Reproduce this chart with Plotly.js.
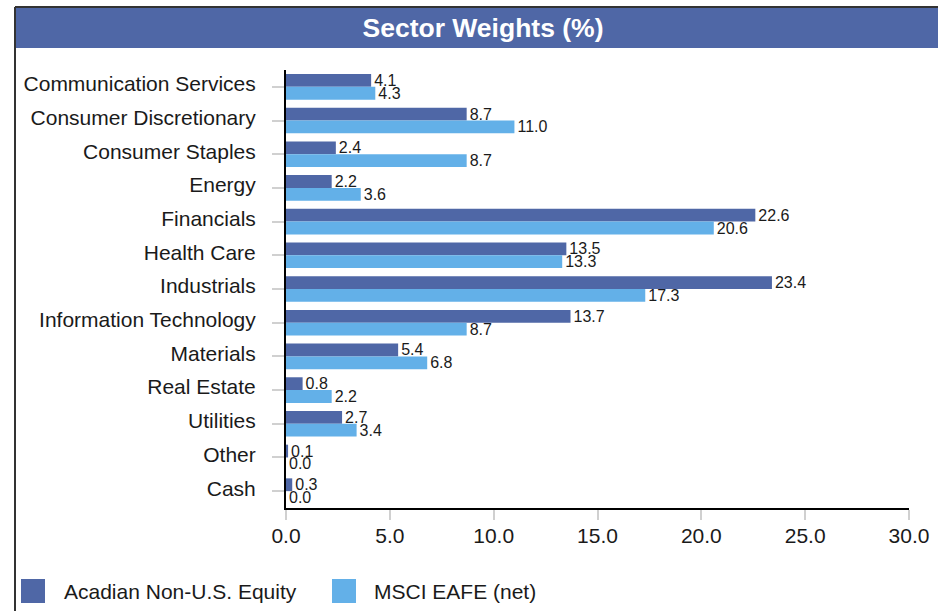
<!DOCTYPE html>
<html>
<head>
<meta charset="utf-8">
<script src="https://cdn.plot.ly/plotly-3.0.1.min.js"></script>
<style>
html,body{margin:0;padding:0;background:#fff;}
#chart{width:938px;height:611px;}
</style>
</head>
<body>
<div id="chart"></div>
<script>
const categories = ["Communication Services","Consumer Discretionary","Consumer Staples","Energy","Financials","Health Care","Industrials","Information Technology","Materials","Real Estate","Utilities","Other","Cash"];
const acadian = [4.1, 8.7, 2.4, 2.2, 22.6, 13.5, 23.4, 13.7, 5.4, 0.8, 2.7, 0.1, 0.3];
const msci = [4.3, 11.0, 8.7, 3.6, 20.6, 13.3, 17.3, 8.7, 6.8, 2.2, 3.4, 0.0, 0.0];
const seriesNames = ["Acadian Non-U.S. Equity", "MSCI EAFE (net)"];
const xTicks = [0, 5, 10, 15, 20, 25, 30];

const C1 = "#4F67A6", C2 = "#63B0E8";
const FONT = "Liberation Sans, Arial, sans-serif";

// plot area in px
const L = 286, R = 909, T = 70, B = 508, W = 938, H = 611;
const px = x => (x - L) / (R - L);
const py = y => (B - y) / (B - T);

function barTrace(vals, name, color) {
  return {
    type: "bar", orientation: "h", x: vals, y: categories, name: name,
    marker: {color: color, line: {width: 0}},
    texttemplate: "%{x:.1f}", textposition: "outside", cliponaxis: false,
    constraintext: "none",
    textfont: {family: FONT, size: 16, color: "#1a1a1a"},
    hoverinfo: "x+y+name", showlegend: false
  };
}

const data = [barTrace(acadian, seriesNames[0], C1), barTrace(msci, seriesNames[1], C2)];

const layout = {
  width: W, height: H,
  margin: {l: L, r: W - R, t: T, b: H - B, pad: 0},
  paper_bgcolor: "#fff", plot_bgcolor: "#fff",
  font: {family: FONT, color: "#1a1a1a"},
  barmode: "group", bargap: 0.24, bargroupgap: 0,
  showlegend: false,
  title: {
    text: "<b>Sector Weights (%)</b>",
    font: {family: FONT, size: 26.5, color: "#ffffff"},
    xref: "container", x: 483 / W, xanchor: "center",
    yref: "container", y: 1 - 28 / H, yanchor: "middle"
  },
  xaxis: {
    range: [0, 30], tickvals: xTicks, tickformat: ".1f",
    showline: true, linecolor: "#000", linewidth: 2,
    ticks: "outside", ticklen: 10, tickcolor: "#d0d0d0", tickwidth: 2,
    showgrid: false, zeroline: false,
    tickfont: {family: FONT, size: 21, color: "#1a1a1a"},
    ticklabelstandoff: -2, fixedrange: true
  },
  yaxis: {
    type: "category", categoryorder: "array", categoryarray: categories,
    autorange: "reversed",
    showline: true, linecolor: "#000", linewidth: 2,
    ticks: "outside", ticklen: 12, tickcolor: "#d0d0d0", tickwidth: 2,
    showgrid: false, zeroline: false,
    tickfont: {family: FONT, size: 21, color: "#1a1a1a"},
    ticklabelstandoff: 12, ticklabelshift: 3, fixedrange: true
  },
  shapes: [
    {type: "rect", xref: "paper", yref: "paper", x0: px(15), x1: px(W + 2), y0: py(48), y1: py(8),
     fillcolor: C1, line: {width: 0}, layer: "below"},
    {type: "line", xref: "paper", yref: "paper", x0: px(15), x1: px(W + 2), y0: py(7), y1: py(7),
     line: {color: "#333", width: 2}},
    {type: "line", xref: "paper", yref: "paper", x0: px(15), x1: px(15), y0: py(7), y1: py(H + 2),
     line: {color: "#333", width: 2}},
    {type: "rect", xref: "paper", yref: "paper", x0: px(21), x1: px(45), y0: py(603), y1: py(579),
     fillcolor: C1, line: {width: 0}},
    {type: "rect", xref: "paper", yref: "paper", x0: px(332), x1: px(356), y0: py(603), y1: py(579),
     fillcolor: C2, line: {width: 0}}
  ],
  annotations: [
    {xref: "paper", yref: "paper", x: px(62), y: py(591), xanchor: "left", yanchor: "middle",
     text: seriesNames[0], showarrow: false, font: {family: FONT, size: 21, color: "#1a1a1a"}},
    {xref: "paper", yref: "paper", x: px(372), y: py(591), xanchor: "left", yanchor: "middle",
     text: seriesNames[1], showarrow: false, font: {family: FONT, size: 21, color: "#1a1a1a"}}
  ]
};

Plotly.newPlot("chart", data, layout, {displayModeBar: false, staticPlot: true});
</script>
</body>
</html>
